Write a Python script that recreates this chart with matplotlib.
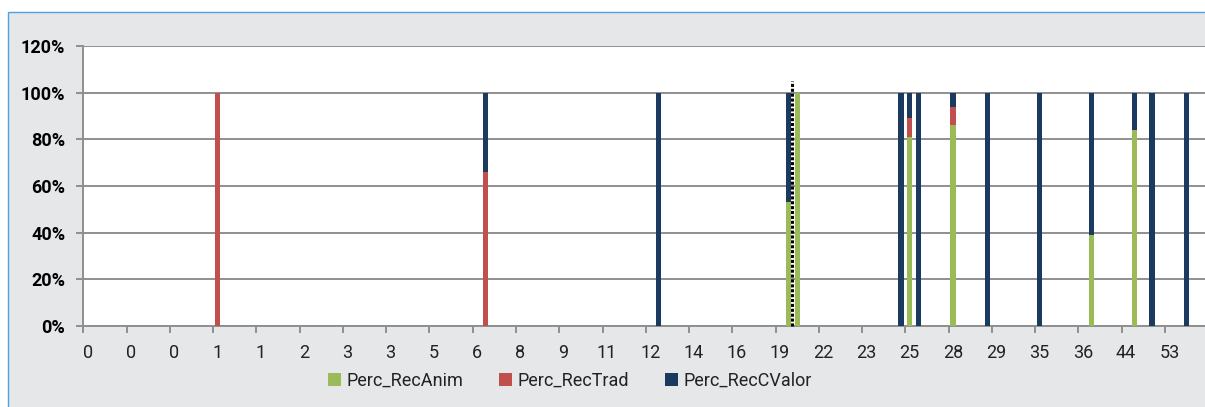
import numpy as np
import matplotlib
matplotlib.use('Agg')
import matplotlib.pyplot as plt
from matplotlib.patches import Rectangle
from matplotlib.ticker import PercentFormatter, FixedLocator

plt.rcParams['font.family'] = ['Roboto', 'DejaVu Sans']

# Data
n_cat = 130
label_step = 5
tick_labels = ['0', '0', '0', '1', '1', '2', '3', '3', '5', '6', '8', '9', '11',
               '12', '14', '16', '19', '22', '23', '25', '28', '29', '35', '36',
               '44', '53']

# only the rows with a non-empty stack
bar_pos = [15, 46, 66, 81, 82, 94, 95, 96, 100, 104, 110, 116, 121, 123, 127]
rec_anim = [0, 0, 0, 0.53, 1.00, 0, 0.81, 0, 0.86, 0, 0, 0.39, 0.84, 0, 0]
rec_trad = [1.00, 0.66, 0, 0, 0, 0, 0.08, 0, 0.08, 0, 0, 0, 0, 0, 0]
rec_cvalor = [0, 0.34, 1.00, 0.47, 0, 1.00, 0.11, 1.00, 0.06, 1.00, 1.00,
              0.61, 0.16, 1.00, 1.00]
cut_x = 81.45
cut_top = 1.05

c_anim = '#9BBB59'
c_trad = '#C0504D'
c_cval = '#1B3A60'
grid_c = '#8F8F8F'

anim = np.zeros(n_cat)
trad = np.zeros(n_cat)
cval = np.zeros(n_cat)
anim[bar_pos] = rec_anim
trad[bar_pos] = rec_trad
cval[bar_pos] = rec_cvalor
x = np.arange(n_cat)

fig = plt.figure(figsize=(12.05, 4.07), dpi=100)
fig.patch.set_facecolor('white')
fig.patches.append(Rectangle((8/1205, -0.05), 1.2, 1 - 12/407 + 0.05,
                             transform=fig.transFigure, facecolor='#E6E7E9',
                             edgecolor='#4DA3E0', linewidth=1.0, zorder=-10))

ax = fig.add_axes([83.3/1205, 1 - 326/407, 1125/1205, 280/407])
ax.set_zorder(1)
ax.set_facecolor('white')

w = 0.6
ax.bar(x, anim, w, color=c_anim, label='Perc_RecAnim', zorder=3)
ax.bar(x, trad, w, bottom=anim, color=c_trad, label='Perc_RecTrad', zorder=3)
ax.bar(x, cval, w, bottom=anim + trad, color=c_cval, label='Perc_RecCValor', zorder=3)

ax.plot([cut_x, cut_x], [0, cut_top], color='black', lw=2.2,
        linestyle=(0, (1.0, 0.6)), zorder=4, clip_on=False)

ax.set_xlim(-0.5, n_cat - 0.5)
ax.set_ylim(0, 1.2)
ax.set_yticks(np.arange(0, 1.21, 0.2))
ax.yaxis.set_major_formatter(PercentFormatter(1.0, decimals=0))
ax.grid(axis='y', color=grid_c, lw=1.4, zorder=1)
ax.set_axisbelow(True)

# labels on every fifth category, tick marks on the category borders
ax.set_xticks(np.arange(0, n_cat, label_step)[:len(tick_labels)])
ax.set_xticklabels(tick_labels)
ax.xaxis.set_minor_locator(FixedLocator(np.arange(-0.5, n_cat, label_step)))
ax.tick_params(axis='x', which='major', length=0, pad=13, labelsize=13,
               labelcolor='#222222')
ax.tick_params(axis='x', which='minor', length=5, width=1.4, color=grid_c)
ax.tick_params(axis='y', length=5, width=1.4, color=grid_c, pad=8)
for lab in ax.get_yticklabels():
    lab.set_fontweight('bold')
    lab.set_fontsize(13)

for s in ['top', 'right']:
    ax.spines[s].set_visible(False)
for s in ['left', 'bottom']:
    ax.spines[s].set_color(grid_c)
    ax.spines[s].set_linewidth(1.4)

fig.legend(loc='center', bbox_to_anchor=(570/1205, 1 - 381/407), ncol=3,
           frameon=False, fontsize=13, handlelength=0.7, handleheight=0.7,
           handletextpad=0.3, columnspacing=2.0, labelcolor='#222222')

fig.savefig('out.png', dpi=100, facecolor=fig.get_facecolor())
